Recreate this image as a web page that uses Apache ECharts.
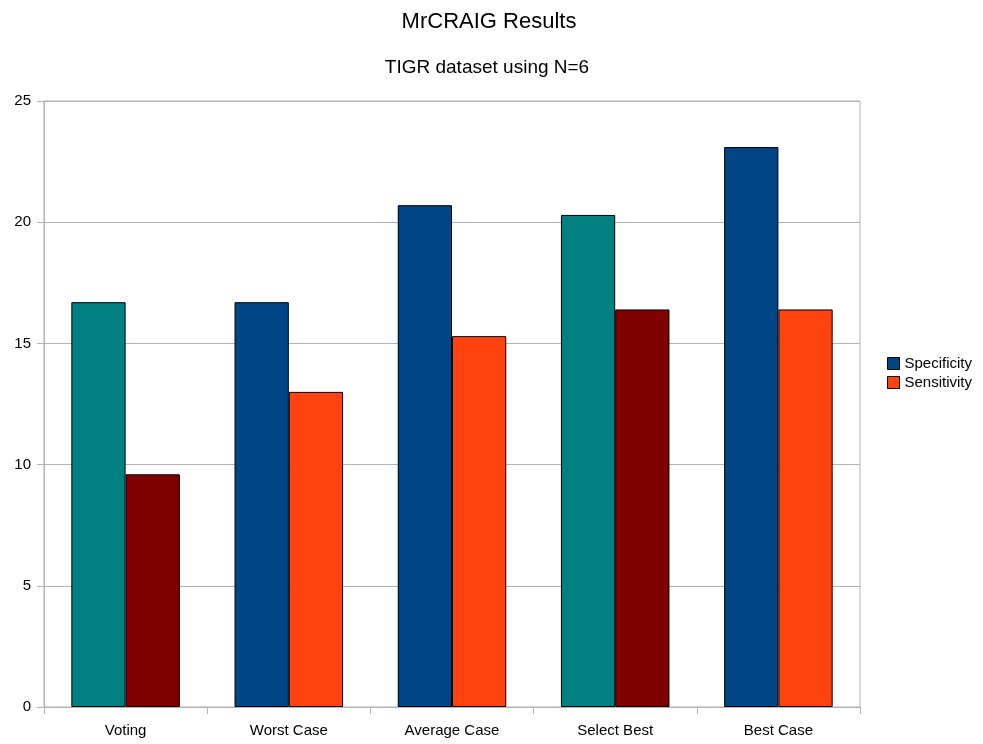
<!DOCTYPE html>
<html><head><meta charset="utf-8">
<script src="https://cdn.jsdelivr.net/npm/echarts@6/dist/echarts.min.js"></script>
<style>html,body{margin:0;padding:0;background:#fff}#c{width:983px;height:744px}</style>
</head><body><div id="c"></div>
<script>
const categories = ["Voting", "Worst Case", "Average Case", "Select Best", "Best Case"];
const specificity = [16.7, 16.7, 20.7, 20.3, 23.1];
const sensitivity = [9.6, 13.0, 15.3, 16.4, 16.4];
const yTicks = [0, 5, 10, 15, 20, 25];

const specColors = ["#008080", "#004586", "#004586", "#008080", "#004586"];
const sensColors = ["#800000", "#ff420e", "#ff420e", "#800000", "#ff420e"];

const chart = echarts.init(document.getElementById('c'), null, {renderer: 'canvas'});
const font = 'Liberation Sans';
chart.setOption({
  animation: false,
  backgroundColor: '#ffffff',
  title: [
    {text: 'MrCRAIG Results', left: 484, top: 6, textAlign: 'center',
     textStyle: {fontFamily: font, fontSize: 22, fontWeight: 'normal', color: '#000'}},
    {text: 'TIGR dataset using N=6', left: 482, top: 53, textAlign: 'center',
     textStyle: {fontFamily: font, fontSize: 19, fontWeight: 'normal', color: '#000'}}
  ],
  legend: {
    orient: 'vertical', left: 882, top: 351, itemWidth: 12, itemHeight: 12, itemGap: 4,
    icon: 'rect',
    textStyle: {fontFamily: font, fontSize: 15, color: '#000', padding: [0,0,0,0]},
    data: [
      {name: 'Specificity', itemStyle: {color: '#004586', borderColor: '#000', borderWidth: 1}},
      {name: 'Sensitivity', itemStyle: {color: '#ff420e', borderColor: '#000', borderWidth: 1}}
    ]
  },
  grid: {left: 44, right: 123, top: 101, bottom: 37, show: true, borderColor: '#b3b3b3', borderWidth: 1},
  xAxis: {
    type: 'category', data: categories,
    axisLine: {lineStyle: {color: '#b3b3b3'}},
    axisTick: {show: true, length: 7, lineStyle: {color: '#b3b3b3'}},
    axisLabel: {fontFamily: font, fontSize: 15, color: '#000', margin: 16}
  },
  yAxis: {
    type: 'value', min: 0, max: 25, interval: 5,
    axisLine: {show: true, lineStyle: {color: '#b3b3b3'}},
    axisTick: {show: true, length: 7, lineStyle: {color: '#b3b3b3'}},
    splitLine: {lineStyle: {color: '#b3b3b3'}},
    axisLabel: {fontFamily: font, fontSize: 15, color: '#000', margin: 13,
      formatter: v => yTicks.includes(v) ? String(v) : ''}
  },
  series: [
    {name: 'Specificity', type: 'bar', barGap: '0%', barCategoryGap: '33.5%',
     data: specificity.map((v, i) => ({value: v, itemStyle: {color: specColors[i]}})),
     itemStyle: {borderColor: '#000', borderWidth: 1}},
    {name: 'Sensitivity', type: 'bar', barGap: '0%', barCategoryGap: '33.5%',
     data: sensitivity.map((v, i) => ({value: v, itemStyle: {color: sensColors[i]}})),
     itemStyle: {borderColor: '#000', borderWidth: 1}}
  ]
});
</script></body></html>
